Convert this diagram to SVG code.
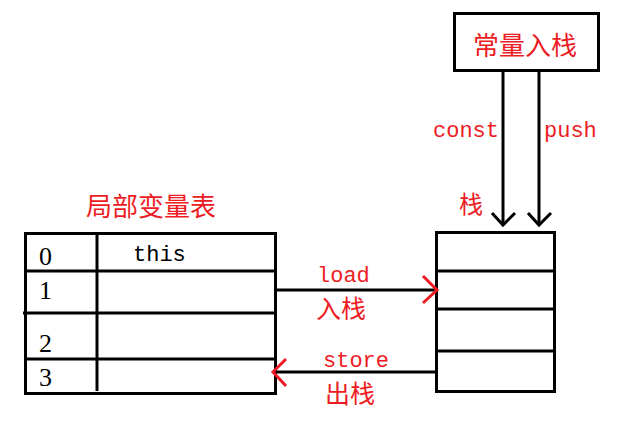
<svg xmlns="http://www.w3.org/2000/svg" width="631" height="429" viewBox="0 0 631 429">
<style>
.box{fill:none;stroke:#000;stroke-width:3}
.ln{stroke:#000;stroke-width:3;fill:none}
.blk{fill:none;stroke:#000;stroke-width:3}
.red{fill:none;stroke:#ed1c24;stroke-width:3}
.cjk{font-family:"Noto Sans CJK SC","Noto Sans CJK JP",sans-serif;fill:#ed1c24;text-anchor:middle}
.lat{font-family:"Liberation Mono",monospace;font-size:22px;fill:#ed1c24}
.num{font-family:"Liberation Serif",serif;font-size:26px;fill:#000}
</style>
<rect width="631" height="429" fill="#fff"/>
<g id="const-box">
<rect class="box" x="454.5" y="13.5" width="144" height="57"/>
<text class="cjk" x="525" y="55" font-size="26">常量入栈</text>
</g>
<g id="local-vars">
<text class="cjk" x="151" y="216" font-size="26">局部变量表</text>
<rect class="box" x="25.5" y="233.5" width="250" height="160"/>
<line class="ln" x1="97" y1="233" x2="97" y2="391"/>
<line class="ln" x1="25" y1="271" x2="276" y2="271"/>
<line class="ln" x1="23" y1="313" x2="276" y2="313"/>
<line class="ln" x1="25" y1="359" x2="276" y2="359"/>
<text class="num" x="39" y="265">0</text>
<text class="num" x="39" y="299">1</text>
<text class="num" x="39" y="352">2</text>
<text class="num" x="39" y="386">3</text>
<text class="lat" x="133" y="261" fill="#000" style="fill:#000">this</text>
</g>
<g id="stack">
<text class="cjk" x="471" y="213" font-size="24">栈</text>
<rect class="box" x="436.5" y="232.5" width="118" height="159"/>
<line class="ln" x1="436" y1="271" x2="555" y2="271"/>
<line class="ln" x1="436" y1="309" x2="555" y2="309"/>
<line class="ln" x1="436" y1="351" x2="555" y2="351"/>
</g>
<g id="connectors">
<line class="ln" x1="503" y1="71" x2="503" y2="225"/>
<polyline class="blk" points="492,213 503,225 515,213"/>
<line class="ln" x1="539" y1="71" x2="539" y2="225"/>
<polyline class="blk" points="528,213 539,225 551,213"/>
<text class="lat" x="433" y="137">const</text>
<text class="lat" x="544" y="137">push</text>
<line class="ln" x1="276" y1="290" x2="436" y2="290"/>
<polyline class="red" points="423,276 437,290 423,303"/>
<text class="lat" x="317" y="282">load</text>
<text class="cjk" x="341" y="318" font-size="25">入栈</text>
<line class="ln" x1="274" y1="372" x2="436" y2="372"/>
<polyline class="red" points="286,359 273,372 286,386"/>
<text class="lat" x="323" y="367">store</text>
<text class="cjk" x="350" y="403" font-size="25">出栈</text>
</g>
</svg>
